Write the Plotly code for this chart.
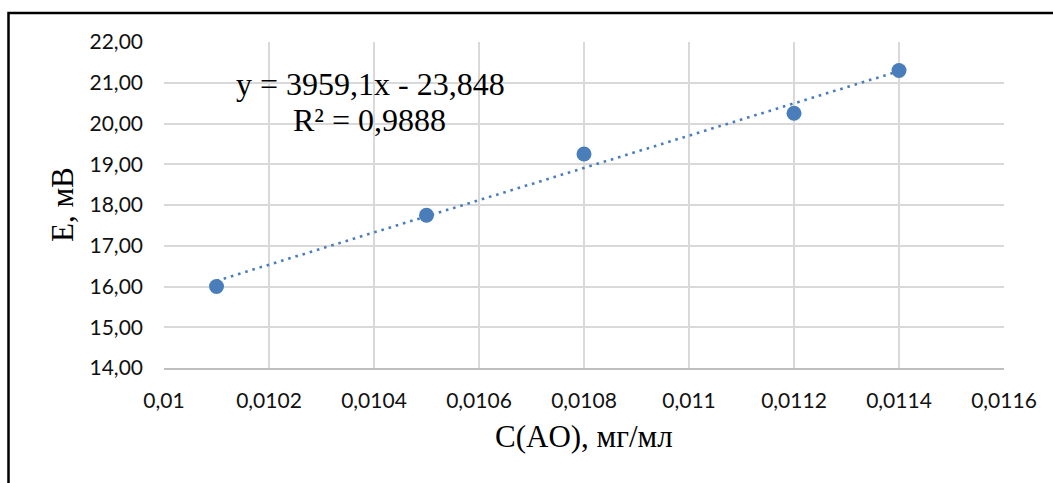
import plotly.graph_objects as go

# Calibration data: antioxidant concentration vs. electrode potential
concentration = [0.0101, 0.0105, 0.0108, 0.0112, 0.0114]
potential_mv = [16.00, 17.75, 19.25, 20.25, 21.30]

# Linear trendline coefficients as reported in the equation label
slope = 3959.1
intercept = -23.848
r_squared_text = "R² = 0,9888"
equation_text = "y = 3959,1x - 23,848"

x_tick_vals = [0.01, 0.0102, 0.0104, 0.0106, 0.0108, 0.011, 0.0112, 0.0114, 0.0116]
x_tick_text = ["0,01", "0,0102", "0,0104", "0,0106", "0,0108", "0,011", "0,0112", "0,0114", "0,0116"]
y_tick_vals = [14, 15, 16, 17, 18, 19, 20, 21, 22]
y_tick_text = ["14,00", "15,00", "16,00", "17,00", "18,00", "19,00", "20,00", "21,00", "22,00"]

W, H = 1053, 483
L, R, T, B = 164, 1004, 42, 368

marker_color = "#4A7EBB"
grid_color = "#D9D9D9"

trend_x = [min(concentration), max(concentration)]
trend_y = [slope * v + intercept for v in trend_x]

fig = go.Figure()
fig.add_trace(go.Scatter(
    x=trend_x, y=trend_y, mode="lines",
    line=dict(color=marker_color, width=2.6, dash="2.6px,4.9px"),
    hoverinfo="skip", showlegend=False,
))
fig.add_trace(go.Scatter(
    x=concentration, y=potential_mv, mode="markers",
    marker=dict(color=marker_color, size=15, line=dict(width=0)),
    showlegend=False,
))


def px_x(p):
    return (p - L) / (R - L)


def px_y(p):
    return (B - p) / (B - T)


tick_font = dict(family="Lato, 'Open Sans', sans-serif", size=21, color="#111111")
serif = "'Liberation Serif', 'Times New Roman', serif"
text_color = "#000000"

fig.update_layout(
    width=W, height=H,
    margin=dict(l=L, r=W - R, t=T, b=H - B, pad=0),
    paper_bgcolor="white", plot_bgcolor="white",
    xaxis=dict(
        range=[0.01, 0.0116], tickmode="array", tickvals=x_tick_vals, ticktext=x_tick_text,
        showgrid=True, gridcolor=grid_color, gridwidth=1.6, zeroline=False,
        showline=True, linecolor="#BFBFBF", linewidth=1.6, ticks="",
        tickfont=tick_font, ticklabelstandoff=13,
    ),
    yaxis=dict(
        range=[14, 22], tickmode="array", tickvals=y_tick_vals, ticktext=y_tick_text,
        showgrid=True, gridcolor=grid_color, gridwidth=1.6, zeroline=False,
        showline=False, ticks="",
        tickfont=tick_font, ticklabelstandoff=20,
    ),
    annotations=[
        dict(text="C(AO), мг/мл", xref="paper", yref="paper", x=px_x(584), y=px_y(437),
             showarrow=False, font=dict(family=serif, size=31, color=text_color),
             xanchor="center", yanchor="middle"),
        dict(text="E, мВ", xref="paper", yref="paper", x=px_x(62), y=px_y(205),
             showarrow=False, textangle=-90, font=dict(family=serif, size=31, color=text_color),
             xanchor="center", yanchor="middle"),
        dict(text=equation_text, xref="paper", yref="paper", x=px_x(370), y=px_y(84),
             showarrow=False, font=dict(family=serif, size=32, color=text_color),
             xanchor="center", yanchor="middle"),
        dict(text=r_squared_text, xref="paper", yref="paper", x=px_x(369), y=px_y(120),
             showarrow=False, font=dict(family=serif, size=32, color=text_color),
             xanchor="center", yanchor="middle"),
    ],
    shapes=[
        dict(type="rect", xref="paper", yref="paper",
             x0=px_x(8.5), x1=px_x(1070), y0=px_y(500), y1=px_y(13),
             line=dict(color="black", width=2.5), fillcolor="rgba(0,0,0,0)", layer="above"),
    ],
)

fig.write_html("out.html")
